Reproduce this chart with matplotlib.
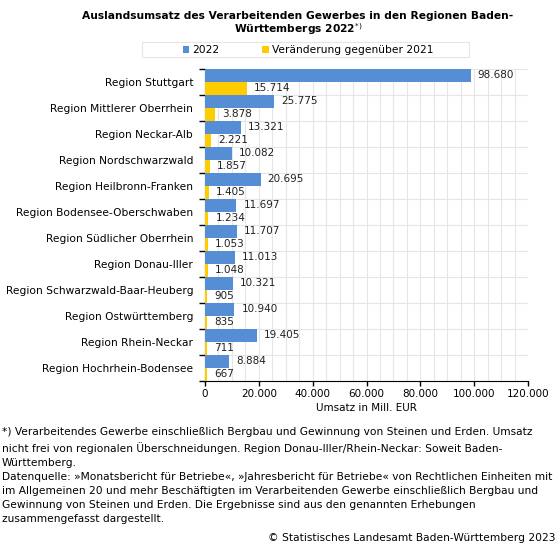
import matplotlib.pyplot as plt
import numpy as np
from matplotlib.patches import Rectangle
from matplotlib.ticker import FuncFormatter, MultipleLocator

plt.rcParams['font.family'] = ['DejaVu Sans']

regions = [
    'Region Stuttgart', 'Region Mittlerer Oberrhein', 'Region Neckar-Alb',
    'Region Nordschwarzwald', 'Region Heilbronn-Franken',
    'Region Bodensee-Oberschwaben', 'Region Südlicher Oberrhein',
    'Region Donau-Iller', 'Region Schwarzwald-Baar-Heuberg',
    'Region Ostwürttemberg', 'Region Rhein-Neckar', 'Region Hochrhein-Bodensee',
]
umsatz_2022 = [98680, 25775, 13321, 10082, 20695, 11697, 11707, 11013, 10321, 10940, 19405, 8884]
veraenderung = [15714, 3878, 2221, 1857, 1405, 1234, 1053, 1048, 905, 835, 711, 667]

blue = '#558ed5'
yellow = '#ffcc00'
fs = 7.5
W, H = 559, 545


def de_fmt(v):
    return f'{v:,.0f}'.replace(',', '.')


fig = plt.figure(figsize=(W / 100, H / 100), dpi=100)
ax = fig.add_axes([205 / W, 1 - 381 / H, 323 / W, 312 / H])

y = np.arange(len(regions))
h = 0.49
b1 = ax.barh(y - 0.25, umsatz_2022, height=h, color=blue, label='2022', zorder=3)
b2 = ax.barh(y + 0.24, veraenderung, height=h, color=yellow,
             label='Veränderung gegenüber 2021', zorder=3)

for bars in (b1, b2):
    for bar in bars:
        w = bar.get_width()
        ax.text(w + 2600, bar.get_y() + bar.get_height() / 2, de_fmt(w),
                va='center', ha='left', fontsize=fs, color='#222222')

ax.set_ylim(len(regions) - 0.5, -0.5)
ax.set_xlim(0, 120000)
ax.set_yticks(y)
ax.set_yticklabels(regions, fontsize=7.7)
ax.set_yticks(np.arange(len(regions) + 1) - 0.5, minor=True)
ax.tick_params(axis='y', which='major', length=0, pad=8.5)
ax.tick_params(axis='y', which='minor', length=4, direction='out', width=1)
ax.xaxis.set_major_locator(MultipleLocator(20000))
ax.xaxis.set_minor_locator(MultipleLocator(5000))
ax.xaxis.set_major_formatter(FuncFormatter(lambda v, p: de_fmt(v)))
ax.tick_params(axis='x', which='major', labelsize=fs, length=3.5, width=1, pad=2)
ax.tick_params(axis='x', which='minor', length=0)
ax.grid(True, which='both', axis='x', color='#e6e6e6', lw=0.8, zorder=0)
ax.grid(True, which='minor', axis='y', color='#e6e6e6', lw=0.8, zorder=0)
ax.set_xlabel('Umsatz in Mill. EUR', fontsize=fs, labelpad=3)
for s in ('top', 'right'):
    ax.spines[s].set_visible(False)

fig.text(297.5 / W, 1 - 16 / H, 'Auslandsumsatz des Verarbeitenden Gewerbes in den Regionen Baden-',
         ha='center', va='center', fontsize=7.7, fontweight='bold')
fig.text(298 / W, 1 - 29 / H, 'Württembergs 2022$^{*)}$',
         ha='center', va='center', fontsize=7.7, fontweight='bold')

# legend box is wider than its entries
fig.patches.append(Rectangle((142 / W, 1 - 57 / H), 327 / W, 15 / H, transform=fig.transFigure,
                             fill=False, edgecolor='#e6e6e6', lw=0.8))
fig.legend(handles=[b1, b2], loc='center', bbox_to_anchor=(308 / W, 1 - 50 / H),
           ncol=2, fontsize=7.7, frameon=False,
           handlelength=0.6, handleheight=0.6, handletextpad=0.3, columnspacing=4,
           borderpad=0, borderaxespad=0)

note = ('*) Verarbeitendes Gewerbe einschließlich Bergbau und Gewinnung von Steinen und Erden. Umsatz\n'
        'nicht frei von regionalen Überschneidungen. Region Donau-Iller/Rhein-Neckar: Soweit Baden-\n'
        'Württemberg.\n'
        'Datenquelle: »Monatsbericht für Betriebe«, »Jahresbericht für Betriebe« von Rechtlichen Einheiten mit\n'
        'im Allgemeinen 20 und mehr Beschäftigten im Verarbeitenden Gewerbe einschließlich Bergbau und\n'
        'Gewinnung von Steinen und Erden. Die Ergebnisse sind aus den genannten Erhebungen\n'
        'zusammengefasst dargestellt.')
fig.text(2 / W, 1 - 427 / H, note, ha='left', va='top', fontsize=7.7, linespacing=1.5)
fig.text(556 / W, 1 - 538 / H, '© Statistisches Landesamt Baden-Württemberg 2023',
         ha='right', va='center', fontsize=7.7)

fig.savefig('out.png', dpi=100)
